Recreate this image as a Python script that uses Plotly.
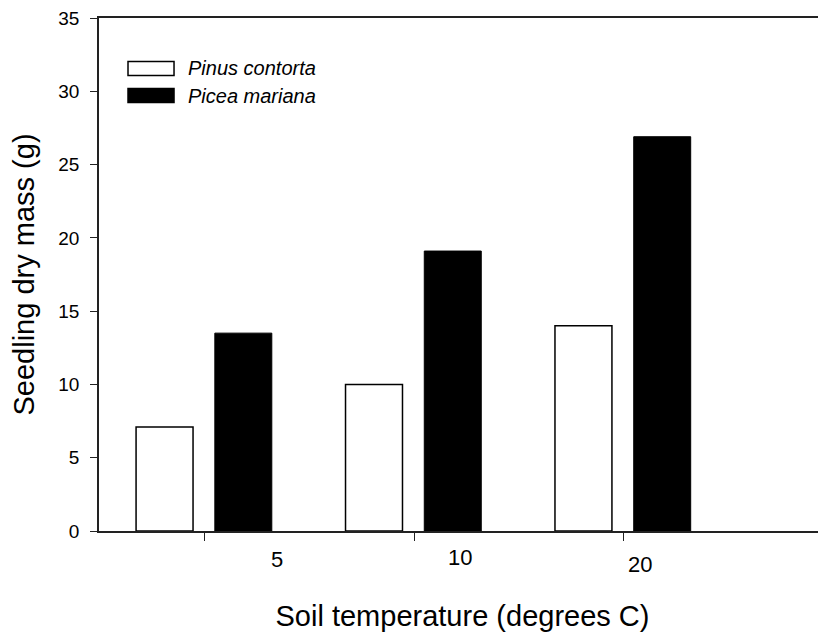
import plotly.graph_objects as go

categories = ["5", "10", "20"]
series_names = ["Pinus contorta", "Picea mariana"]
pinus_contorta = [7.1, 10.0, 14.0]
picea_mariana = [13.5, 19.1, 26.9]
y_tick_vals = [0, 5, 10, 15, 20, 25, 30, 35]

FONT = "Liberation Sans, Arial, sans-serif"
pos = list(range(len(categories)))

fig = go.Figure()
fig.add_trace(go.Bar(
    x=pos, y=pinus_contorta, name=series_names[0],
    marker=dict(color="white", line=dict(color="black", width=1.5)),
    width=0.272, offset=-0.327, showlegend=False))
fig.add_trace(go.Bar(
    x=pos, y=picea_mariana, name=series_names[1],
    marker=dict(color="black", line=dict(color="black", width=1)),
    width=0.272, offset=0.049, showlegend=False))

# custom legend (wide rectangles as in original)
legend_fills = ["white", "black"]
legend_y = [0.9016, 0.8489]
for name, fill, ly in zip(series_names, legend_fills, legend_y):
    fig.add_shape(type="rect", xref="paper", yref="paper",
                  x0=0.0399, x1=0.1032, y0=ly - 0.0135, y1=ly + 0.0135,
                  fillcolor=fill, line=dict(color="black", width=1.5))
    fig.add_annotation(xref="paper", yref="paper", x=0.119, y=ly,
                       text="<i>%s</i>" % name, showarrow=False,
                       xanchor="left", yanchor="middle",
                       font=dict(family=FONT, size=20, color="black"))

# x tick labels (offset from their ticks as in the original)
label_xshift = [72, 46, 17]
label_yshift = [-28, -26, -33]
for p, lab, dx, dy in zip(pos, categories, label_xshift, label_yshift):
    fig.add_annotation(xref="x", yref="paper", x=p, y=0, text=lab,
                       showarrow=False, xanchor="center", yanchor="middle",
                       xshift=dx, yshift=dy,
                       font=dict(family=FONT, size=22, color="black"))

fig.update_layout(
    width=818, height=630,
    margin=dict(l=91, r=0, t=10, b=107),
    plot_bgcolor="white", paper_bgcolor="white",
    font=dict(family=FONT, size=19, color="black"),
    barmode="overlay",
    showlegend=False,
    xaxis=dict(range=[-0.504, 2.967], tickvals=pos, ticktext=["", "", ""],
               showgrid=False, zeroline=False, showline=True,
               linecolor="#222", linewidth=1.5, mirror=True,
               ticks="outside", ticklen=8, tickwidth=1.2, tickcolor="#222",
               title=dict(text="Soil temperature (degrees C)",
                          font=dict(family=FONT, size=29), standoff=62)),
    yaxis=dict(range=[0, 35], tickvals=y_tick_vals,
               showgrid=False, zeroline=False, showline=True,
               linecolor="#222", linewidth=1.5,
               ticks="outside", ticklen=7, tickwidth=1.2, tickcolor="#222",
               ticklabelstandoff=7, ticklabeloverflow="allow",
               tickfont=dict(family=FONT, size=19),
               title=dict(text="Seedling dry mass (g)",
                          font=dict(family=FONT, size=29), standoff=25)),
)
fig.update_xaxes(automargin=False)
fig.update_yaxes(automargin=False)

fig.write_html("out.html")
